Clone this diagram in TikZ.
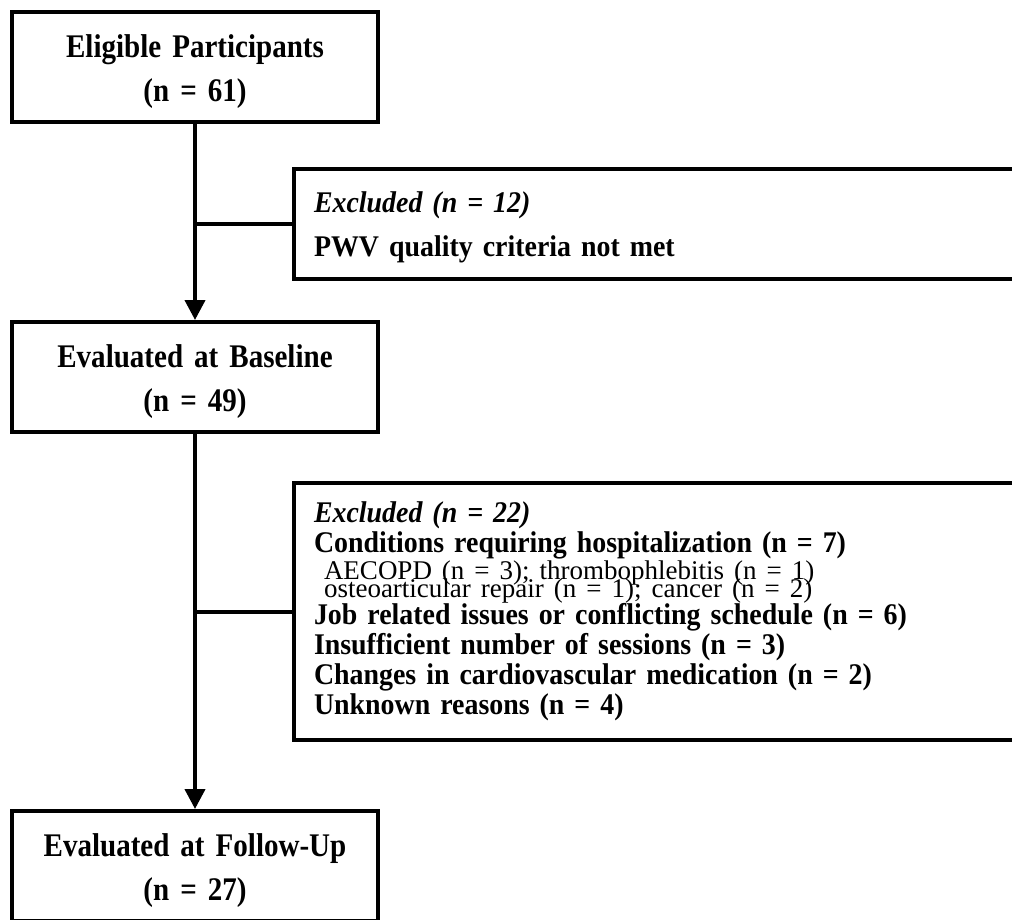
\documentclass[tikz,border=0pt]{standalone}
\usepackage{fontspec}
\setmainfont{Liberation Serif}
\newfontfamily\boxfont[FakeStretch=0.88]{Liberation Serif}
\newfontfamily\exclfont[FakeStretch=0.93]{Liberation Serif}
\usetikzlibrary{arrows.meta}
\usetikzlibrary{positioning}
\tikzset{>={Triangle[width=20pt,length=20pt]}}

\begin{document}
\begin{tikzpicture}[x=1pt,y=-1pt]
\tikzset{mainbox/.style={draw, line width=4pt, minimum width=366pt, minimum height=110pt, text width=360pt, inner xsep=3pt, inner ysep=0pt, align=center, font=\boxfont\fontsize{33}{44}\selectfont\bfseries}}
\tikzset{exclbox/.style={draw, line width=4pt, anchor=north west, minimum width=820pt, text width=780pt, inner xsep=20pt, inner ysep=0pt, align=left, font=\exclfont\fontsize{30}{30}\selectfont\bfseries}}
\tikzset{flow/.style={line width=4pt}}
\newcommand{\subline}[1]{\hspace*{10pt}{\normalfont\fontsize{27}{30}\selectfont #1}}
\useasboundingbox (0,0) rectangle (1012,919);
\clip (0,0) rectangle (1012,919);

    \node[mainbox] (elig) at (195,67) {\rule{0pt}{32pt}Eligible Participants\\(n = 61)};
    \node[mainbox] (base) at (195,377) {\rule{0pt}{32pt}Evaluated at Baseline\\(n = 49)};
    \node[mainbox] (foll) at (195,866) {\rule{0pt}{32pt}Evaluated at Follow-Up\\(n = 27)};
% % % % % % % % % % % % % % % % % % %
    \node[exclbox, minimum height=110pt] (excla) at (292,167)
        {\rule{0pt}{27pt}\textit{Excluded (n = 12)}\\[14pt]
         PWV quality criteria not met};
    \node[exclbox, minimum height=257pt] (exclb) at (292,481)
        {\textit{Excluded (n = 22)}\\
         Conditions requiring hospitalization (n = 7)\\[-3pt]
         \subline{AECOPD (n = 3); thrombophlebitis (n = 1)}\\[-12pt]
         \subline{osteoarticular repair (n = 1); cancer (n = 2)}\\[-3pt]
         Job related issues or conflicting schedule (n = 6)\\
         Insufficient number of sessions (n = 3)\\
         Changes in cardiovascular medication (n = 2)\\
         Unknown reasons (n = 4)};
% % % % % % % % % % % % % % % % % % %
    \draw[flow,->] (elig) -- (base);
    \draw[flow,->] (base) -- (foll);
    \draw[flow] (elig.south |- excla.west) -- (excla.west);
    \draw[flow] (base.south |- exclb.west) -- (exclb.west);
\end{tikzpicture}
\end{document}
